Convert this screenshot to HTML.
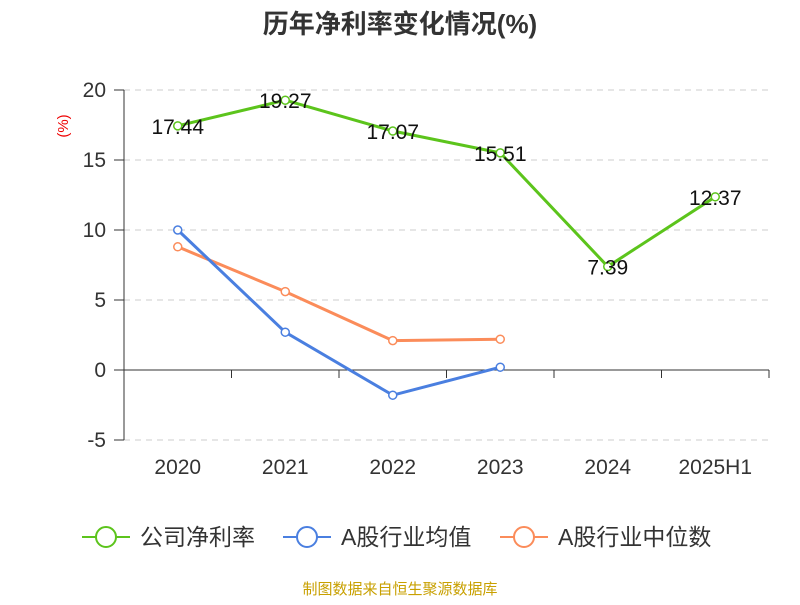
<!DOCTYPE html>
<html><head><meta charset="utf-8"><style>
body{margin:0;background:#fff;font-family:"Liberation Sans","Noto Sans CJK SC",sans-serif}
</style></head><body>
<svg id="chart" width="800" height="600" style="font-family:'Liberation Sans','Noto Sans CJK SC',sans-serif">
<text x="400" y="33" text-anchor="middle" font-size="26" font-weight="bold" fill="#333">历年净利率变化情况(%)</text>
<text x="68" y="126" text-anchor="middle" font-size="15" fill="#e00" transform="rotate(-90 68 126)">(%)</text>
<g id="grid"></g><g id="axes"></g><g id="series"></g>
<g id="legend"></g>
<text x="400" y="594" text-anchor="middle" font-size="15" fill="#c8a000">制图数据来自恒生聚源数据库</text>
</svg>
<script>
const categories=["2020","2021","2022","2023","2024","2025H1"];
const netMargin=[17.44,19.27,17.07,15.51,7.39,12.37];
const industryAvg=[10.0,2.7,-1.8,0.2,null,null];
const industryMedian=[8.8,5.6,2.1,2.2,null,null];
const yTicks=[-5,0,5,10,15,20];
const NS="http://www.w3.org/2000/svg";
const L=124,R=769,x=i=>L+(R-L)/categories.length*(i+0.5),y=v=>370-v*14;
function mk(t,a,p){const e=document.createElementNS(NS,t);for(const k in a)e.setAttribute(k,a[k]);p.appendChild(e);return e;}
const grid=document.getElementById('grid'),axes=document.getElementById('axes'),ser=document.getElementById('series'),leg=document.getElementById('legend');
yTicks.forEach(v=>{
 if(v!==0){const l=mk('line',{x1:L,x2:R,y1:y(v),y2:y(v),stroke:'#ccc','stroke-dasharray':'6,5'},grid);
 
 }
 const t=mk('text',{x:106,y:y(v)+7,'text-anchor':'end','font-size':21,fill:'#333'},axes);t.textContent=v;
 
 
 mk('line',{x1:114,x2:L,y1:y(v),y2:y(v),stroke:'#333'},axes);
});
const ya=mk('line',{x1:L,x2:L,y1:y(20),y2:y(-5),stroke:'#333'},axes);


const xa=mk('line',{x1:L,x2:R,y1:y(0),y2:y(0),stroke:'#333'},axes);


for(let i=0;i<=categories.length;i++){mk('line',{x1:L+(R-L)/6*i,x2:L+(R-L)/6*i,y1:370,y2:378,stroke:'#333'},axes);}
categories.forEach((c,i)=>{const t=mk('text',{x:x(i),y:474,'text-anchor':'middle','font-size':21,fill:'#333'},axes);t.textContent=c;
 
 });
function series(data,color,name,labels){
 const pts=data.map((v,i)=>v==null?null:[x(i),y(v)]).filter(p=>p);
 const pl=mk('polyline',{points:pts.map(p=>p.join(',')).join(' '),fill:'none',stroke:color,'stroke-width':3},ser);
 
 
 data.forEach((v,i)=>{if(v==null)return;
  const c=mk('circle',{cx:x(i),cy:y(v),r:4,fill:'#fff',stroke:color,'stroke-width':1.5},ser);
  
  
  if(labels){const t=mk('text',{x:x(i),y:y(v)+8,'text-anchor':'middle','font-size':21,fill:'#111'},ser);t.textContent=v.toFixed(2);
  
  }
 });
}
series(industryMedian,'#fb8c5a','industry-median',false);
series(industryAvg,'#4a7fe0','industry-average',false);
series(netMargin,'#5cc41c','net-margin',true);
[["公司净利率",'#5cc41c',82],["A股行业均值",'#4a7fe0',283],["A股行业中位数",'#fb8c5a',500]].forEach(([n,c,lx])=>{
 const g=mk('g',{},leg);
 
 
 mk('line',{x1:lx,x2:lx+48,y1:537,y2:537,stroke:c,'stroke-width':2},g);
 mk('circle',{cx:lx+24,cy:537,r:10,fill:'#fff',stroke:c,'stroke-width':2},g);
 const t=mk('text',{x:lx+58,y:545,'font-size':23,fill:'#333'},g);t.textContent=n;
});
</script>
</body></html>
